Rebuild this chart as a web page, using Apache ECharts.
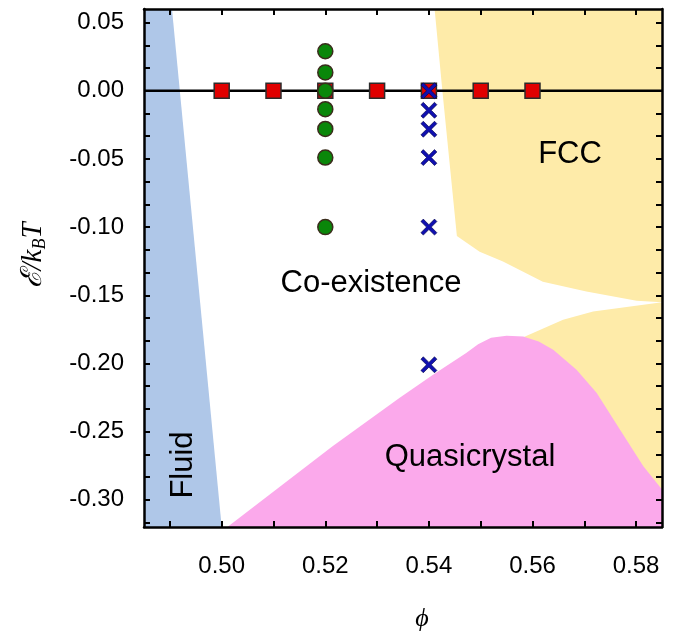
<!DOCTYPE html>
<html>
<head>
<meta charset="utf-8">
<script src="https://cdn.jsdelivr.net/npm/echarts@6/dist/echarts.min.js"></script>
<style>
html,body{margin:0;padding:0;background:#fff;}
#main{width:682px;height:631px;}
</style>
</head>
<body>
<div id="main"></div>
<script>
// ---- axis ticks / labels ----
const phiTicks = [0.49, 0.50, 0.51, 0.52, 0.53, 0.54, 0.55, 0.56, 0.57, 0.58];
const phiLabels = [0.50, 0.52, 0.54, 0.56, 0.58];
const epsTicks = [0.05, 0.0333, 0.0167, 0, -0.0167, -0.0333, -0.05, -0.0667, -0.0833, -0.10,
  -0.1167, -0.1333, -0.15, -0.1667, -0.1833, -0.20, -0.2167, -0.2333, -0.25, -0.2667, -0.2833,
  -0.30, -0.3167];
const epsLabels = [0.05, 0.00, -0.05, -0.10, -0.15, -0.20, -0.25, -0.30];

// ---- phase regions (boundaries) ----
const fluidPhi = [0.485, 0.4904, 0.5000, 0.485];
const fluidEps = [0.06, 0.06, -0.32, -0.32];

const fccUpperPhi = [0.5411, 0.5426, 0.5454, 0.5498, 0.5543, 0.5620, 0.5704, 0.5801, 0.585, 0.585];
const fccUpperEps = [0.06, 0.0, -0.1065, -0.1180, -0.1253, -0.1400, -0.1473, -0.1541, -0.1552, 0.06];

const fccLowerPhi = [0.585, 0.5717, 0.5659, 0.5579, 0.5560, 0.585];
const fccLowerEps = [-0.1552, -0.1619, -0.1680, -0.1814, -0.2000, -0.3000];

const quasiPhi = [0.5011, 0.5214, 0.5343, 0.5408, 0.5472, 0.5495, 0.5520, 0.5550, 0.5582, 0.5612, 0.5640, 0.5685, 0.5724, 0.5769, 0.5814, 0.585, 0.585];
const quasiEps = [-0.32, -0.2608, -0.2253, -0.2083, -0.1924, -0.1860, -0.1812, -0.1797, -0.1802, -0.1840, -0.1900, -0.2046, -0.2217, -0.2486, -0.2754, -0.2925, -0.32];

// ---- zero line ----
const zeroLinePhi = [0.485, 0.585];
const zeroLineEps = [0, 0];

// ---- simulation points ----
const squaresPhi = [0.50, 0.51, 0.52, 0.53, 0.54, 0.55, 0.56];
const squaresEps = [0, 0, 0, 0, 0, 0, 0];
const circlesPhi = [0.52, 0.52, 0.52, 0.52, 0.52, 0.52, 0.52];
const circlesEps = [0.029, 0.0135, 0, -0.0135, -0.028, -0.049, -0.100];
const crossesPhi = [0.54, 0.54, 0.54, 0.54, 0.54, 0.54];
const crossesEps = [0, -0.0143, -0.0282, -0.049, -0.100, -0.201];

const zip = (a, b) => a.map((v, i) => [v, b[i]]);

function regionSeries(phi, eps, color) {
  const pts = zip(phi, eps);
  return {
    type: 'custom',
    silent: true,
    coordinateSystem: 'cartesian2d',
    encode: { x: 0, y: 1 },
    data: pts,
    z: 1,
    renderItem: function (params, api) {
      if (params.dataIndex !== 0) return null;
      const points = pts.map(p => api.coord(p));
      return { type: 'polygon', shape: { points: points }, style: { fill: color } };
    }
  };
}

const chart = echarts.init(document.getElementById('main'), null, { renderer: 'canvas' });

const axisLineStyle = { color: '#000', width: 2.5 };
const tickStyle = { color: '#000', width: 2 };
const labelFont = { fontFamily: 'Liberation Sans, Arial, sans-serif', fontSize: 24, color: '#000' };
const sansFont = 'Liberation Sans, Arial, sans-serif';

const option = {
  animation: false,
  backgroundColor: '#fff',
  grid: { left: 144, top: 9, width: 518, height: 518, outerBoundsMode: 'none', containLabel: false },
  xAxis: [{
    type: 'value', min: 0.485, max: 0.585, position: 'bottom', z: 10,
    name: 'ϕ', nameLocation: 'middle', nameGap: 79,
    nameTextStyle: { fontFamily: 'Liberation Serif, DejaVu Serif, serif', fontStyle: 'italic', fontSize: 26, color: '#000', padding: [0, 0, 0, 38] },
    axisLine: { show: true, onZero: false, lineStyle: axisLineStyle },
    axisTick: { show: true, inside: true, length: 6, lineStyle: tickStyle, customValues: phiTicks },
    axisLabel: Object.assign({ show: true, margin: 27, customValues: phiLabels, formatter: v => v.toFixed(2) }, labelFont),
    splitLine: { show: false }
  }, {
    type: 'value', min: 0.485, max: 0.585, position: 'top', z: 10,
    axisLine: { show: true, onZero: false, lineStyle: axisLineStyle },
    axisTick: { show: true, inside: true, length: 6, lineStyle: tickStyle, customValues: phiTicks },
    axisLabel: { show: false },
    splitLine: { show: false }
  }],
  yAxis: [{
    type: 'value', min: -0.32, max: 0.06, position: 'left', z: 10,
    name: '{m|ℰ/k}{b|B}{m|T}', nameLocation: 'middle', nameRotate: 90, nameGap: 95,
    nameTextStyle: {
      padding: [0, 0, 0, 26],
      rich: {
        m: { fontFamily: 'Liberation Serif, DejaVu Serif, serif', fontStyle: 'italic', fontSize: 29, color: '#000' },
        b: { fontFamily: 'Liberation Serif, DejaVu Serif, serif', fontStyle: 'italic', fontSize: 18, color: '#000', padding: [14, 0, 0, 0] }
      }
    },
    axisLine: { show: true, onZero: false, lineStyle: axisLineStyle },
    axisTick: { show: true, inside: true, length: 6, lineStyle: tickStyle, customValues: epsTicks },
    axisLabel: Object.assign({ show: true, margin: 20, customValues: epsLabels, formatter: v => v.toFixed(2) }, labelFont),
    splitLine: { show: false }
  }, {
    type: 'value', min: -0.32, max: 0.06, position: 'right', z: 10,
    axisLine: { show: true, onZero: false, lineStyle: axisLineStyle },
    axisTick: { show: true, inside: true, length: 6, lineStyle: tickStyle, customValues: epsTicks },
    axisLabel: { show: false },
    splitLine: { show: false }
  }],
  series: [
    regionSeries(fluidPhi, fluidEps, '#afc7e8'),
    regionSeries(fccUpperPhi, fccUpperEps, '#feeba9'),
    regionSeries(fccLowerPhi, fccLowerEps, '#feeba9'),
    regionSeries(quasiPhi, quasiEps, '#fba9eb'),
    {
      type: 'line', data: zip(zeroLinePhi, zeroLineEps), symbol: 'none', silent: true, z: 3,
      lineStyle: { color: '#000', width: 2.5 }
    },
    {
      type: 'scatter', data: zip(squaresPhi, squaresEps), symbol: 'rect', symbolSize: 15, z: 4,
      itemStyle: { color: '#e00000', borderColor: '#2b2b2b', borderWidth: 1.5, opacity: 1 }
    },
    {
      type: 'scatter', data: zip(circlesPhi, circlesEps), symbol: 'circle', symbolSize: 15, z: 5,
      itemStyle: { color: '#0a870a', borderColor: '#3a2c1c', borderWidth: 1.5, opacity: 1 }
    },
    {
      type: 'scatter', data: zip(crossesPhi, crossesEps), z: 6,
      symbol: 'path://M0,3 L3,0 L10,7 L17,0 L20,3 L13,10 L20,17 L17,20 L10,13 L3,20 L0,17 L7,10 Z',
      symbolSize: 16,
      itemStyle: { color: '#1010b0', borderColor: '#000040', borderWidth: 0.6, opacity: 1 }
    }
  ],
  graphic: [
    { type: 'text', x: 570, y: 154, z: 50, silent: true, style: { text: 'FCC', font: '31px ' + sansFont, fill: '#000', align: 'center', verticalAlign: 'middle' } },
    { type: 'text', x: 371, y: 283, z: 50, silent: true, style: { text: 'Co-existence', font: '31px ' + sansFont, fill: '#000', align: 'center', verticalAlign: 'middle' } },
    { type: 'text', x: 470, y: 457, z: 50, silent: true, style: { text: 'Quasicrystal', font: '31px ' + sansFont, fill: '#000', align: 'center', verticalAlign: 'middle' } },
    { type: 'text', x: 183, y: 465, z: 50, rotation: Math.PI / 2, silent: true, style: { text: 'Fluid', font: '31px ' + sansFont, fill: '#000', align: 'center', verticalAlign: 'middle' } }
  ]
};

chart.setOption(option);
</script>
</body>
</html>
